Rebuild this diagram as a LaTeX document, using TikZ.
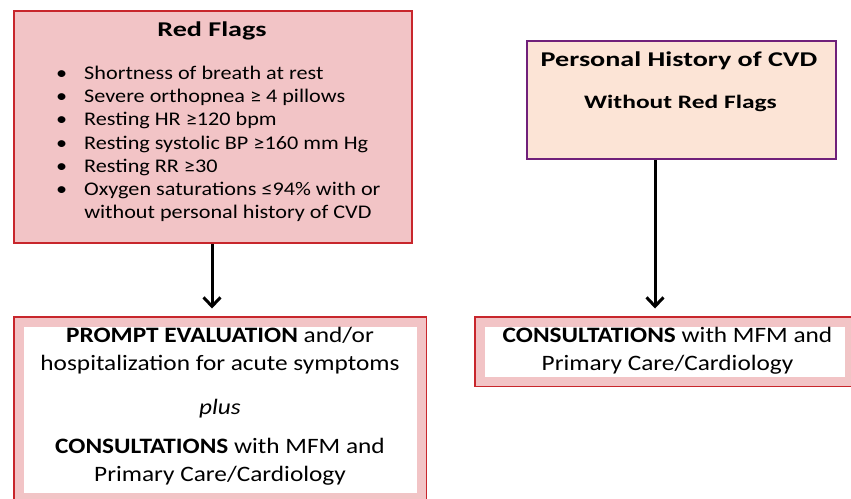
\documentclass[tikz,border=0pt]{standalone}
\usepackage{fontspec}
\setmainfont[FakeStretch=1.15]{Carlito}
\newfontfamily\headfont[FakeStretch=1.34]{Carlito}
\usetikzlibrary{arrows.meta}
\definecolor{flagred}{HTML}{C8262C}
\definecolor{flagpink}{HTML}{F2C4C6}
\definecolor{histpurple}{HTML}{70207A}
\definecolor{histpeach}{HTML}{FCE4D6}
\newcommand{\listfont}{\fontsize{19.3}{23.2}\selectfont}
\newcommand{\actfont}{\fontsize{22}{27.5}\selectfont}
\tikzset{
	flagbox/.style={draw=flagred, fill=flagpink, line width=2pt, inner sep=0pt, minimum width=398pt, minimum height=232pt},
	histbox/.style={draw=histpurple, fill=histpeach, line width=2pt, inner sep=0pt, minimum width=309pt, minimum height=118pt},
	actbox/.style={fill=white, draw=flagpink, line width=9pt, inner sep=0pt, preaction={draw=flagred, line width=12pt}},
	flow/.style={line width=3pt, -{Straight Barb[length=9pt,width=17pt]}, shorten >=9pt}
}
\begin{document}
\begin{tikzpicture}[x=1pt,y=-1pt]
		\clip (0,0) rectangle (851,498);
		\fill[white] (0,0) rectangle (851,498);
		% boxes
		\node[flagbox] (flags) at (213,127) {};
		\node[histbox] (history) at (681.5,100) {};
		\node[actbox, minimum width=402pt, minimum height=175pt] (prompt) at (220,409.5) {};
		\node[actbox, minimum width=369pt, minimum height=59pt] (consult) at (664.5,351.5) {};
		% texts
		\node[font=\headfont\bfseries\fontsize{21}{25}\selectfont] (flagtitle) at (212,31) {Red Flags};
		\node[anchor=north west, inner sep=0pt, font=\listfont] (flaglist) at (56,63) {%
			\begin{tabular}{@{}l@{\hspace{17pt}}l@{}}
			\textbullet & Shortness of breath at rest\\
			\textbullet & Severe orthopnea ≥ 4 pillows\\
			\textbullet & Resting HR ≥120 bpm\\
			\textbullet & Resting systolic BP ≥160 mm Hg\\
			\textbullet & Resting RR ≥30\\
			\textbullet & Oxygen saturations ≤94\% with or\\
			 & without personal history of CVD
			\end{tabular}};
		\node[font=\headfont\bfseries\fontsize{21}{25}\selectfont] (histtitle) at (679,61) {Personal History of CVD};
		\node[font=\headfont\bfseries\fontsize{19}{23}\selectfont] (histsub) at (680.5,103) {Without Red Flags};
		\node[font=\actfont, align=center, anchor=north] (prompttext) at (220,324) {%
			\textbf{PROMPT EVALUATION} and/or\\
			hospitalization for acute symptoms\\[17pt]
			\textit{plus}\\[11.5pt]
			\textbf{CONSULTATIONS} with MFM and\\
			Primary Care/Cardiology};
		\node[font=\actfont, align=center, anchor=north] (consulttext) at (667.5,324) {%
			\textbf{CONSULTATIONS} with MFM and\\
			Primary Care/Cardiology};
		% arrows
		\draw[flow] (flags.south -| 212,0) -- (prompt.north -| 212,0);
		\draw[flow] ([xshift=-26.5pt]history.south) -- (consult.north -| 655,0);
	\end{tikzpicture}
\end{document}
